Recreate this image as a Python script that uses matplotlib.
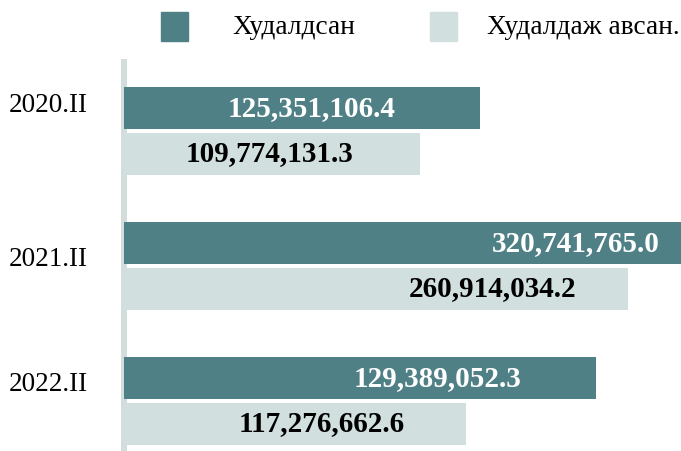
import matplotlib
matplotlib.use("Agg")
import numpy as np
from matplotlib import pyplot as plt
from matplotlib.patches import Rectangle

# data
periods = ["2020.II", "2021.II", "2022.II"]
series_names = ["Худалдсан", "Худалдаж авсан."]
# bar lengths as drawn in the original (relative units, not proportional to labels)
sold_len = [356, 905, 472]
bought_len = [296, 504, 342]
sold_labels = ["125,351,106.4", "320,741,765.0", "129,389,052.3"]
bought_labels = ["109,774,131.3", "260,914,034.2", "117,276,662.6"]

dark = "#4f8086"
light = "#d1dfde"

plt.rcParams['font.family'] = ['Liberation Serif', 'DejaVu Serif']

W, H = 681, 451
fig = plt.figure(figsize=(W / 100, H / 100), dpi=100)
# axes from x=124px to the right edge, y=62px to the bottom
ax = fig.add_axes([124 / W, 0, 1 - 124 / W, (H - 62) / H])

y = np.arange(len(periods))
h = 0.31
off = 0.17
ax.barh(y - off, sold_len, height=h, color=dark, zorder=3)
ax.barh(y + off, bought_len, height=h, color=light, zorder=3)

ax.set_xlim(0, W - 124)
ax.set_ylim((H - 62 - 69) / 135, -69 / 135)

# value labels (placed roughly where the original has them)
sold_x = [188, 452, 314]
bought_x = [146, 369, 198]
for i in range(len(periods)):
    ax.text(sold_x[i], y[i] - off, sold_labels[i], ha="center", va="center",
            color="white", fontsize=21, fontweight="bold", zorder=4)
    ax.text(bought_x[i], y[i] + off, bought_labels[i], ha="center", va="center",
            color="black", fontsize=21, fontweight="bold", zorder=4)

# category labels
lab_off = [-0.19, -0.05, -0.12]
for i, p in enumerate(periods):
    ax.text(-36, y[i] + lab_off[i], p, ha="right", va="center",
            fontsize=19.5, color="black", clip_on=False)

for s in ["top", "right", "bottom"]:
    ax.spines[s].set_visible(False)
ax.spines["left"].set_color("#d3dddc")
ax.spines["left"].set_linewidth(4.3)
ax.spines["left"].set_zorder(1)
ax.set_xticks([])
ax.set_yticks([])

# legend, drawn by hand (the gaps differ between the two entries)
leg_box_x = [161, 430]
leg_txt_x = [232, 487]
for bx, tx, c, name in zip(leg_box_x, leg_txt_x, [dark, light], series_names):
    fig.patches.append(Rectangle((bx / W, 1 - 41 / H), 27 / W, 29 / H,
                                 transform=fig.transFigure, color=c))
    fig.text(tx / W, 1 - 27 / H, name, ha="left", va="center", fontsize=19.7)

fig.savefig("out.png", dpi=100)
